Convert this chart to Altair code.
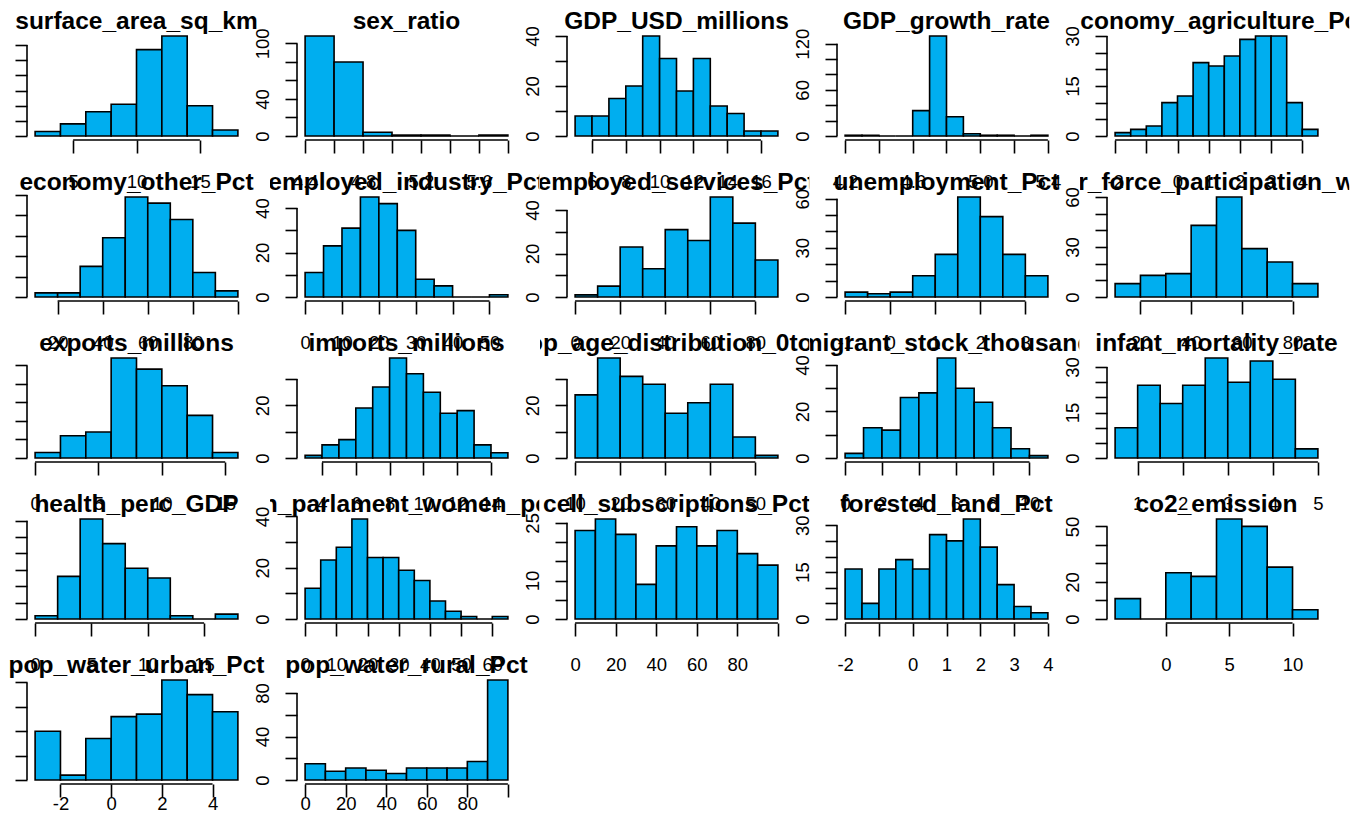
import altair as alt
import pandas as pd

# ---- histogram counts, one list per variable ----
surface_area_sq_km = [3, 8, 16, 21, 57, 66, 20, 4]
sex_ratio = [108, 80, 4, 1, 1, 0, 1]
GDP_USD_millions = [8, 8, 15, 20, 40, 31, 18, 31, 12, 9, 2, 2]
GDP_growth_rate = [1, 1, 0, 0, 33, 130, 25, 3, 1, 1, 0, 1]
economy_agriculture_Pct = [1, 2, 3, 10, 12, 22, 21, 24, 29, 30, 30, 10, 2]
economy_other_Pct = [2, 2, 15, 29, 49, 46, 38, 12, 3]
employed_industry_Pct = [11, 23, 31, 45, 42, 30, 8, 5, 0, 0, 1]
employed_services_Pct = [1, 5, 23, 13, 31, 26, 46, 34, 17]
unemployment_Pct = [3, 2, 3, 13, 26, 61, 49, 26, 13]
labour_force_participation_women = [8, 13, 14, 43, 60, 29, 21, 8]
exports_millions = [3, 12, 14, 54, 48, 39, 23, 3]
imports_millions = [1, 5, 7, 19, 27, 38, 32, 25, 17, 18, 5, 2]
pop_age_distribution_0to14 = [24, 38, 31, 28, 17, 21, 28, 8, 1]
migrant_stock_thousand = [2, 13, 12, 26, 28, 43, 30, 24, 13, 4, 1]
infant_mortality_rate = [10, 24, 18, 24, 33, 25, 32, 26, 3]
health_perc_GDP = [2, 26, 61, 46, 31, 25, 2, 0, 3]
in_parlament_women_pct = [12, 23, 28, 39, 24, 24, 19, 15, 7, 3, 1, 0, 1]
cell_subscriptions_Pct = [23, 26, 22, 9, 19, 24, 19, 23, 17, 14]
forested_land_Pct = [16, 5, 16, 19, 16, 27, 25, 32, 23, 11, 4, 2]
co2_emission = [11, 0, 25, 23, 54, 50, 28, 5]
pop_water_urban_Pct = [20, 2, 17, 26, 27, 41, 35, 28]
pop_water_rural_Pct = [15, 8, 11, 9, 6, 11, 11, 11, 17, 92]

panel_titles = [
    "surface_area_sq_km", "sex_ratio", "GDP_USD_millions", "GDP_growth_rate",
    "economy_agriculture_Pct", "economy_other_Pct", "employed_industry_Pct",
    "employed_services_Pct", "unemployment_Pct", "labour_force_participation_women",
    "exports_millions", "imports_millions", "pop_age_distribution_0to14",
    "migrant_stock_thousand", "infant_mortality_rate", "health_perc_GDP",
    "in_parlament_women_pct", "cell_subscriptions_Pct", "forested_land_Pct",
    "co2_emission", "pop_water_urban_Pct", "pop_water_rural_Pct",
]
panel_counts = [
    surface_area_sq_km, sex_ratio, GDP_USD_millions, GDP_growth_rate,
    economy_agriculture_Pct, economy_other_Pct, employed_industry_Pct,
    employed_services_Pct, unemployment_Pct, labour_force_participation_women,
    exports_millions, imports_millions, pop_age_distribution_0to14,
    migrant_stock_thousand, infant_mortality_rate, health_perc_GDP,
    in_parlament_women_pct, cell_subscriptions_Pct, forested_land_Pct,
    co2_emission, pop_water_urban_Pct, pop_water_rural_Pct,
]
bin_starts = [2, 4.4, 5, 4.2, -2, 10, 0, 0, -1, 10, 0, 3, 10, 0, 0.5, 0, 0, 0, -2, -4, -3, 0]
bin_widths = [2, 0.2, 1, 0.1, 0.5, 10, 5, 10, 0.5, 10, 2, 1, 5, 1, 0.5, 2, 5, 10, 0.5, 2, 1, 10]

x_tick_values = [
    [5, 10, 15],
    [4.4, 4.6, 4.8, 5.0, 5.2, 5.4, 5.6, 5.8],
    [6, 8, 10, 12, 14, 16],
    [4.2, 4.4, 4.6, 4.8, 5.0, 5.2, 5.4],
    [-2, -1, 0, 1, 2, 3, 4],
    [20, 40, 60, 80, 100],
    [0, 10, 20, 30, 40, 50],
    [0, 20, 40, 60, 80],
    [-1, 0, 1, 2, 3],
    [20, 40, 60, 80],
    [0, 5, 10, 15],
    [4, 6, 8, 10, 12, 14],
    [10, 20, 30, 40, 50],
    [0, 2, 4, 6, 8, 10],
    [1, 2, 3, 4, 5],
    [0, 5, 10, 15],
    [0, 10, 20, 30, 40, 50, 60],
    [0, 20, 40, 60, 80, 100],
    [-2, -1, 0, 1, 2, 3, 4],
    [0, 5, 10],
    [-2, 0, 2, 4],
    [0, 20, 40, 60, 80, 100],
]
x_tick_labels = [
    ["5", "10", "15"],
    ["4.4", "", "4.8", "", "5.2", "", "5.6", ""],
    ["6", "8", "10", "12", "14", "16"],
    ["4.2", "", "4.6", "", "5.0", "", "5.4"],
    ["-2", "", "0", "1", "2", "3", "4"],
    ["20", "40", "60", "80", ""],
    ["0", "10", "20", "30", "40", "50"],
    ["0", "20", "40", "60", "80"],
    ["-1", "0", "1", "2", "3"],
    ["20", "40", "60", "80"],
    ["0", "5", "10", "15"],
    ["4", "6", "8", "10", "12", "14"],
    ["10", "20", "30", "40", "50"],
    ["0", "2", "4", "6", "8", "10"],
    ["1", "2", "3", "4", "5"],
    ["0", "5", "10", "15"],
    ["0", "10", "20", "30", "40", "50", "60"],
    ["0", "20", "40", "60", "80", ""],
    ["-2", "", "0", "1", "2", "3", "4"],
    ["0", "5", "10"],
    ["-2", "0", "2", "4"],
    ["0", "20", "40", "60", "80", ""],
]
y_tick_values = [
    [0, 10, 20, 30, 40, 50, 60],
    [0, 20, 40, 60, 80, 100],
    [0, 10, 20, 30, 40],
    [0, 20, 40, 60, 80, 100, 120],
    [0, 5, 10, 15, 20, 25, 30],
    [0, 10, 20, 30, 40, 50],
    [0, 10, 20, 30, 40],
    [0, 10, 20, 30, 40],
    [0, 10, 20, 30, 40, 50, 60],
    [0, 10, 20, 30, 40, 50, 60],
    [0, 10, 20, 30, 40, 50],
    [0, 10, 20, 30],
    [0, 10, 20, 30],
    [0, 10, 20, 30, 40],
    [0, 5, 10, 15, 20, 25, 30],
    [0, 10, 20, 30, 40, 50, 60],
    [0, 10, 20, 30, 40],
    [0, 5, 10, 15, 20, 25],
    [0, 5, 10, 15, 20, 25, 30],
    [0, 10, 20, 30, 40, 50],
    [0, 10, 20, 30, 40],
    [0, 20, 40, 60, 80],
]
y_tick_labels = [
    [],
    ["0", "", "40", "", "", "100"],
    ["0", "", "20", "", "40"],
    ["0", "", "", "60", "", "", "120"],
    ["0", "", "", "15", "", "", "30"],
    [],
    ["0", "", "20", "", "40"],
    ["0", "", "20", "", "40"],
    ["0", "", "", "30", "", "", "60"],
    ["0", "", "", "30", "", "", "60"],
    [],
    ["0", "", "20", ""],
    ["0", "", "20", ""],
    ["0", "", "20", "", "40"],
    ["0", "", "", "15", "", "", "30"],
    [],
    ["0", "", "20", "", "40"],
    ["0", "", "10", "", "", "25"],
    ["0", "", "", "15", "", "", "30"],
    ["0", "", "20", "", "", "50"],
    [],
    ["0", "", "40", "", "80"],
]

# ---- look ----
FONT = "Liberation Sans"
FILL = "#00AEEF"
LINE_W = 1.6
CELL_W, CELL_H = 269.25, 160.4          # one figure cell of the 5 x 5 grid
PLOT_L, PLOT_R, PLOT_T, PLOT_B = 27, 246, 32, 140   # plot region inside a cell
TITLE_Y = 28.5
LABEL_SIZE = 18.5
X_TICK, Y_TICK = 13, 12


def label_expr(values, labels):
    expr = "''"
    for v, t in zip(reversed(values), reversed(labels)):
        if t:
            expr = f"datum.value == {v} ? '{t}' : ({expr})"
    return expr


def panel(i, last_row):
    counts = panel_counts[i]
    start, w = bin_starts[i], bin_widths[i]
    k = len(counts)
    df = pd.DataFrame({
        "lo": [start + j * w for j in range(k)],
        "hi": [start + (j + 1) * w for j in range(k)],
        "n": counts,
    })
    lo, hi = start, start + k * w
    pad = 0.04 * (hi - lo)
    top = max(counts)
    xs = alt.Scale(domain=[lo - pad, hi + pad], range=[PLOT_L, PLOT_R], nice=False, zero=False)
    ys = alt.Scale(domain=[-0.04 * top, 1.04 * top], range=[PLOT_B, PLOT_T], nice=False, zero=False)

    xt, xl = x_tick_values[i], x_tick_labels[i]
    yt, yl = y_tick_values[i], y_tick_labels[i]

    x_axis = alt.Axis(
        values=xt, tickCount=50, labelExpr=label_expr(xt, xl), title=None, grid=False, domain=False,
        tickSize=X_TICK, tickWidth=LINE_W, tickColor="black",
        labelFont=FONT, labelFontSize=LABEL_SIZE, labelColor="black",
        labelAlign="center", labelBaseline="alphabetic",
        labelPadding=(12.6 if last_row else 34.3),
        labelOverlap=False, labelFlush=False, offset=PLOT_B - CELL_H,
    )
    y_axis_args = dict(
        values=yt, tickCount=50, title=None, grid=False, domain=False,
        tickSize=Y_TICK, tickWidth=LINE_W, tickColor="black", offset=-PLOT_L,
    )
    if yl:
        y_axis = alt.Axis(
            labelExpr=label_expr(yt, yl), labelFont=FONT, labelFontSize=LABEL_SIZE,
            labelColor="black", labelAngle=270, labelAlign="center",
            labelBaseline="alphabetic", labelPadding=16.4,
            labelOverlap=False, labelFlush=False, **y_axis_args,
        )
    else:
        y_axis = alt.Axis(labels=False, **y_axis_args)

    bars = alt.Chart(df).mark_rect(fill=FILL, stroke="black", strokeWidth=LINE_W).encode(
        x=alt.X("lo:Q", scale=xs, axis=x_axis),
        x2="hi:Q",
        y=alt.Y("n:Q", scale=ys, axis=y_axis),
        y2=alt.Y2Datum(0),
    )
    one = pd.DataFrame({"k": [0]})
    # R-style axis lines running from the first to the last tick
    x_line = alt.Chart(one).mark_rule(color="black", strokeWidth=LINE_W).encode(
        x=alt.XDatum(xt[0]), x2=alt.X2Datum(xt[-1]), y=alt.value(PLOT_B)
    )
    y_line = alt.Chart(one).mark_rule(color="black", strokeWidth=LINE_W).encode(
        y=alt.YDatum(yt[0]), y2=alt.Y2Datum(yt[-1]), x=alt.value(PLOT_L)
    )
    title = alt.Chart(one).mark_text(
        text=panel_titles[i], font=FONT, fontWeight="bold", fontSize=24.5,
        align="center", baseline="alphabetic", color="black", clip=True,
    ).encode(x=alt.value((PLOT_L + PLOT_R) / 2), y=alt.value(TITLE_Y))

    return alt.layer(bars, x_line, y_line, title).properties(width=CELL_W, height=CELL_H)


n = len(panel_titles)
panels = [panel(i, i >= 20) for i in range(n)]

chart = alt.concat(*panels, columns=5, spacing=0, bounds="flush").properties(
    padding=0, background="white"
).configure_view(stroke=None)

chart.save("out.html", embed_options={"renderer": "svg", "actions": False})
